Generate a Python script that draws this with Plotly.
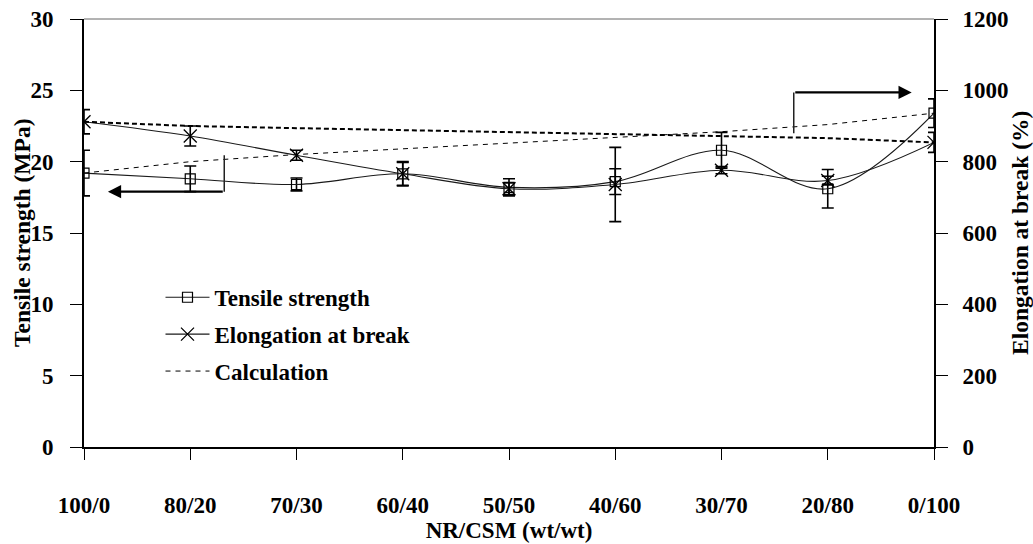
import plotly.graph_objects as go

categories = ["100/0", "80/20", "70/30", "60/40", "50/50", "40/60", "30/70", "20/80", "0/100"]
tensile = [19.2, 18.8, 18.4, 19.15, 18.2, 18.6, 20.8, 18.1, 23.4]
tensile_err = [1.6, 0.9, 0.45, 0.8, 0.6, 0.9, 1.25, 1.35, 1.0]
elongation = [912, 872, 818, 766, 724, 736, 776, 747, 854]
elongation_err = [34, 28, 14, 34, 16, 104, 10, 12, 28]
tensile_calc = [19.2, 20.0, 20.5, 20.9, 21.3, 21.7, 22.1, 22.6, 23.4]
elongation_calc = [912, 900, 894, 888, 883, 877, 871, 866, 854]

FONT = "Liberation Serif"
BLACK = "#000000"
BF = dict(family=FONT, size=23, color=BLACK, weight=700)
TF = dict(family=FONT, size=23.5, color=BLACK, weight=700)

fig = go.Figure()

fig.add_trace(go.Scatter(
    x=categories, y=tensile, name="Tensile strength", mode="lines+markers",
    line=dict(color="#1a1a1a", width=1.1, shape="spline", smoothing=1),
    marker=dict(symbol="square-open", size=10, color=BLACK, line=dict(width=1.2)),
    error_y=dict(type="data", array=tensile_err, color=BLACK, thickness=1.6, width=6),
    legendgroup="a", legendrank=1,
))
fig.add_trace(go.Scatter(
    x=categories, y=elongation, name="Elongation at break", mode="lines+markers", yaxis="y2",
    line=dict(color="#1a1a1a", width=1.1, shape="spline", smoothing=1),
    marker=dict(symbol="x-thin-open", size=13, color=BLACK, line=dict(width=1.3, color=BLACK)),
    error_y=dict(type="data", array=elongation_err, color=BLACK, thickness=1.6, width=6),
    legendgroup="b", legendrank=2,
))
fig.add_trace(go.Scatter(
    x=categories, y=tensile_calc, name="Calculation", mode="lines",
    line=dict(color=BLACK, width=1, dash="5px,5px"),
    legendgroup="c", legendrank=3,
))
fig.add_trace(go.Scatter(
    x=categories, y=elongation_calc, name="Calculation", mode="lines", yaxis="y2",
    line=dict(color=BLACK, width=2, dash="5px,3px"),
    showlegend=False,
))

# arrows pointing to the axes
fig.add_shape(type="line", xref="x", yref="y", x0=1.32, x1=1.32, y0=17.9, y1=20.45,
              line=dict(color="#222222", width=1.5))
fig.add_annotation(x=0.225, y=17.9, ax=1.32, ay=17.9, xref="x", yref="y", axref="x", ayref="y",
                   text="", showarrow=True, arrowhead=2, arrowsize=1.2, arrowwidth=2.2, arrowcolor=BLACK)
fig.add_shape(type="line", xref="x", yref="y", x0=6.68, x1=6.68, y0=22.0, y1=24.85,
              line=dict(color="#222222", width=1.5))
fig.add_annotation(x=7.79, y=24.85, ax=6.68, ay=24.85, xref="x", yref="y", axref="x", ayref="y",
                   text="", showarrow=True, arrowhead=2, arrowsize=1.2, arrowwidth=2.2, arrowcolor=BLACK)

# thin top border
fig.add_shape(type="line", xref="paper", yref="paper", x0=0, x1=1, y0=1, y1=1,
              line=dict(color="#666666", width=1))

# axis titles
fig.add_annotation(text="Tensile strength (MPa)", xref="paper", yref="paper",
                   x=-62 / 850, y=0.5, xanchor="center", yanchor="middle", textangle=-90,
                   showarrow=False, font=TF)
fig.add_annotation(text="Elongation at break (%)", xref="paper", yref="paper",
                   x=1 + 86 / 850, y=0.5, xanchor="center", yanchor="middle", textangle=-90,
                   showarrow=False, font=TF)

fig.update_layout(
    width=1033, height=544,
    margin=dict(l=84, r=99, t=19, b=97, autoexpand=False),
    paper_bgcolor="white", plot_bgcolor="white",
    font=BF,
    showlegend=True,
    legend=dict(x=0.09, y=0.4, xanchor="left", yanchor="top", bgcolor="rgba(0,0,0,0)",
                font=BF, tracegroupgap=4, itemwidth=44),
    xaxis=dict(
        type="category", range=[0, 8], showgrid=False, zeroline=False, automargin=False,
        showline=True, linecolor=BLACK, linewidth=1.5,
        ticks="outside", ticklen=11, tickwidth=1, tickcolor=BLACK,
        tickfont=BF, ticklabelstandoff=26,
        title=dict(text="NR/CSM (wt/wt)", font=BF, standoff=0),
    ),
    yaxis=dict(
        range=[0, 30], dtick=5, showgrid=False, zeroline=False, automargin=False,
        showline=True, linecolor=BLACK, linewidth=2,
        ticks="outside", ticklen=12, tickwidth=1, tickcolor=BLACK,
        tickfont=BF, ticklabelstandoff=12,
    ),
    yaxis2=dict(
        range=[0, 1200], dtick=200, overlaying="y", side="right", showgrid=False, zeroline=False,
        automargin=False,
        showline=True, linecolor=BLACK, linewidth=2,
        ticks="outside", ticklen=12, tickwidth=1, tickcolor=BLACK,
        tickfont=BF, ticklabelstandoff=10,
    ),
)

fig.write_html("out.html")
